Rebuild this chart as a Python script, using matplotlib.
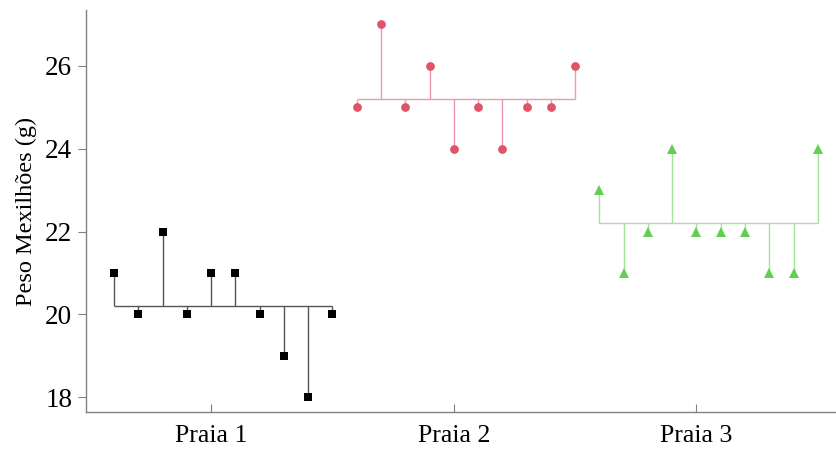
import matplotlib
matplotlib.use("Agg")
import matplotlib.pyplot as plt
import numpy as np

groups = ["Praia 1", "Praia 2", "Praia 3"]
praia1 = [21, 20, 22, 20, 21, 21, 20, 19, 18, 20]
praia2 = [25, 27, 25, 26, 24, 25, 24, 25, 25, 26]
praia3 = [23, 21, 22, 24, 22, 22, 22, 21, 21, 24]
yticks = [18, 20, 22, 24, 26]

series = [praia1, praia2, praia3]
marker_colors = ["#000000", "#DF536B", "#61D04F"]
line_colors = ["#555555", "#EE9AAB", "#A3E39A"]
markers = ["s", "o", "^"]
msizes = [6.0, 6.3, 7.4]

plt.rcParams['font.family'] = ['Liberation Serif', 'DejaVu Serif']

fig = plt.figure(figsize=(8.36, 4.49), dpi=100)
ax = fig.add_axes([0.103, 0.082, 0.897, 0.896])

start = 1
tick_pos = []
for vals, mc, lc, mk, ms in zip(series, marker_colors, line_colors, markers, msizes):
    n = len(vals)
    x = np.arange(start, start + n)
    m = np.mean(vals)
    ax.hlines(m, x[0], x[-1], color=lc, lw=1.0, zorder=1)
    ax.vlines(x, m, vals, color=lc, lw=1.0, zorder=1)
    ax.plot(x, vals, linestyle='none', marker=mk, color=mc, markersize=ms,
            markeredgewidth=0, zorder=2)
    tick_pos.append(start + 4)
    start += n

ax.set_xlim(-0.15, 30.75)
ax.set_ylim(17.64, 27.35)
ax.set_xticks(tick_pos)
ax.set_xticklabels(groups, fontsize=18.5)
ax.set_yticks(yticks)
ax.set_yticklabels([str(t) for t in yticks], fontsize=19.5)
ax.set_ylabel("Peso Mexilhões (g)", fontsize=17.5, labelpad=6)

for s in ["top", "right"]:
    ax.spines[s].set_visible(False)
for s in ["left", "bottom"]:
    ax.spines[s].set_color("#808080")
    ax.spines[s].set_linewidth(1.0)
ax.tick_params(axis='y', direction='out', length=6, color="#808080", pad=4)
ax.tick_params(axis='x', direction='in', length=6, color="#808080", pad=9)

fig.savefig("out.png", dpi=100)
